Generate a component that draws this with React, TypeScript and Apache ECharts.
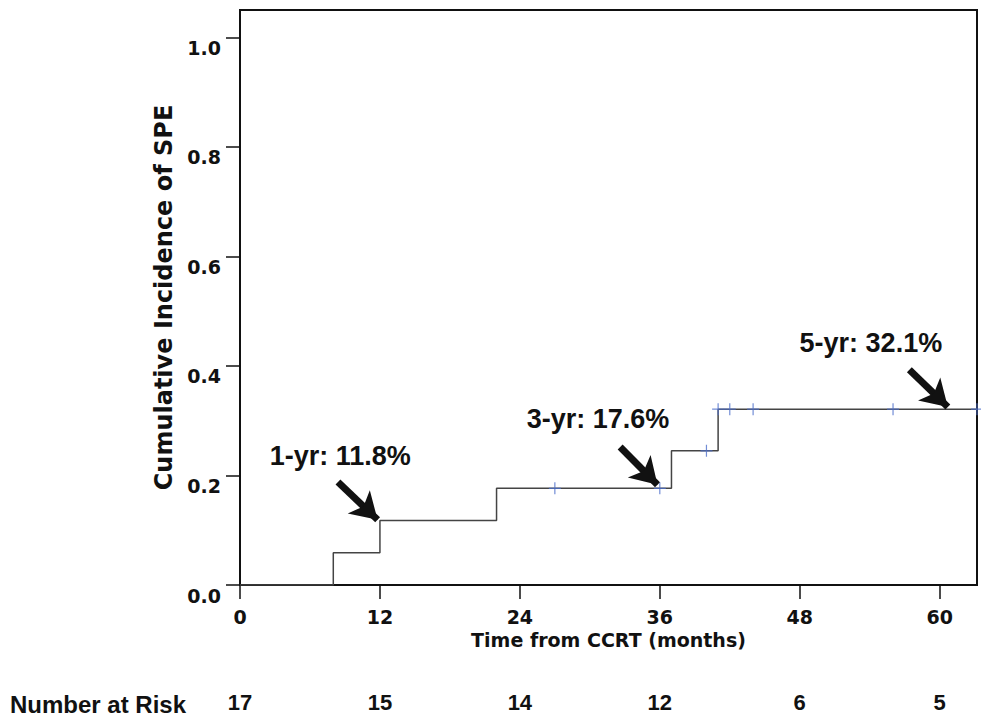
import React, { useEffect, useRef } from "react";
import * as echarts from "echarts";

// Kaplan-Meier style cumulative incidence steps (months, incidence)
const stepTimes = [0, 8, 12, 22, 37, 41, 63.2];
const stepValues = [0, 0.0588, 0.1176, 0.1765, 0.2451, 0.3211, 0.3211];

// Censored observations (months, incidence)
const censorTimes = [27, 36, 40, 41, 42, 44, 56, 63.2];
const censorValues = [0.1765, 0.1765, 0.2451, 0.3211, 0.3211, 0.3211, 0.3211, 0.3211];

// X tick values and number at risk
const riskTicks = [0, 12, 24, 36, 48, 60];
const numberAtRisk = [17, 15, 14, 12, 6, 5];

// Annotations: label text, label position, arrow tail and tip (data coords)
const annotationTexts = ["1-yr: 11.8%", "3-yr: 17.6%", "5-yr: 32.1%"];
const annotationLabelPos = [
  [8.6, 0.236],
  [30.7, 0.303],
  [54.1, 0.442],
];
const arrowTails = [
  [8.4, 0.188],
  [32.6, 0.252],
  [57.4, 0.393],
];
const arrowTips = [
  [11.8, 0.119],
  [35.8, 0.183],
  [60.7, 0.325],
];

const PLUS =
  "path://M4.5,0h1v4.5h4.5v1h-4.5v4.5h-1v-4.5h-4.5v-1h4.5z";

export default function App() {
  const ref = useRef<HTMLDivElement>(null);
  useEffect(() => {
    if (!ref.current) return;
    const chart = echarts.init(ref.current, null, { renderer: "svg" });
    const tickFont = {
      fontFamily: "DejaVu Sans",
      fontWeight: "bold" as const,
      fontSize: 19,
      color: "#111",
    };
    chart.setOption({
      animation: false,
      backgroundColor: "#fff",
      grid: {
        left: 240,
        right: 4,
        top: 10,
        bottom: 141,
        show: true,
        borderColor: "#111",
        borderWidth: 2,
        backgroundColor: "transparent",
      },
      xAxis: [
        {
          type: "value",
          min: 0,
          max: 63.2,
          interval: 12,
          name: "Time from CCRT (months)",
          nameLocation: "middle",
          nameGap: 35,
          nameTextStyle: {
            fontFamily: "DejaVu Sans",
            fontWeight: "bold",
            fontSize: 19,
            color: "#111",
          },
          axisLine: { show: true, lineStyle: { color: "#111", width: 2 } },
          axisTick: { show: true, length: 14, lineStyle: { color: "#111", width: 1.5 } },
          axisLabel: { ...tickFont, margin: 22, showMaxLabel: false },
          splitLine: { show: false },
        },
        {
          type: "value",
          min: 0,
          max: 63.2,
          interval: 12,
          position: "bottom",
          axisLine: { show: false },
          axisTick: { show: false },
          splitLine: { show: false },
          axisLabel: {
            showMaxLabel: false,
            margin: 106,
            fontFamily: "Liberation Sans",
            fontWeight: "bold",
            fontSize: 22,
            color: "#111",
            formatter: (v: number) => {
              const i = riskTicks.indexOf(v);
              return i >= 0 ? String(numberAtRisk[i]) : "";
            },
          },
        },
      ],
      yAxis: {
        type: "value",
        min: 0,
        max: 1.05,
        interval: 0.2,
        name: "Cumulative Incidence of SPE",
        nameLocation: "middle",
        nameGap: 55,
        nameRotate: 90,
        nameTextStyle: {
          fontFamily: "DejaVu Sans",
          fontWeight: "bold",
          fontSize: 24,
          color: "#111",
        },
        axisLine: { show: true, lineStyle: { color: "#111", width: 2 } },
        axisTick: { show: true, length: 14, lineStyle: { color: "#111", width: 1.5 } },
        axisLabel: {
          ...tickFont,
          margin: 19,
          showMaxLabel: false,
          verticalAlign: "top",
          lineHeight: 19,
          padding: [1, 0, 0, 0],
          formatter: (v: number) => v.toFixed(1),
        },
        splitLine: { show: false },
      },
      graphic: [
        {
          type: "text",
          left: 10,
          top: 692,
          style: {
            text: "Number at Risk",
            fontFamily: "Liberation Sans",
            fontWeight: "bold",
            fontSize: 24,
            fill: "#111",
          },
        },
      ],
      series: [
        {
          type: "line",
          step: "end",
          data: stepTimes.map((t, i) => [t, stepValues[i]]),
          showSymbol: false,
          symbol: "none",
          lineStyle: { color: "#444", width: 1.5 },
          z: 3,
          markLine: {
            silent: true,
            symbol: ["none", "arrow"],
            symbolSize: [24, 26],
            label: { show: false },
            lineStyle: { color: "#111", width: 7, type: "solid" },
            data: arrowTails.map((tail, i) => [
              { coord: tail },
              { coord: arrowTips[i] },
            ]),
          },
          markPoint: {
            silent: true,
            symbol: "rect",
            symbolSize: 1,
            itemStyle: { color: "rgba(0,0,0,0)" },
            label: {
              show: true,
              position: "inside",
              fontFamily: "Liberation Sans",
              fontWeight: "bold",
              fontSize: 27,
              color: "#111",
              formatter: (p: any) => p.name,
            },
            data: annotationTexts.map((t, i) => ({
              name: t,
              coord: annotationLabelPos[i],
            })),
          },
        },
        {
          type: "scatter",
          data: censorTimes.map((t, i) => [t, censorValues[i]]),
          symbol: PLUS,
          symbolSize: 12,
          itemStyle: { color: "#4f70cc" },
          z: 4,
        },
      ],
    });
    return () => chart.dispose();
  }, []);
  return <div ref={ref} style={{ width: 981, height: 726, position: "absolute", left: 0, top: 0 }} />;
}
